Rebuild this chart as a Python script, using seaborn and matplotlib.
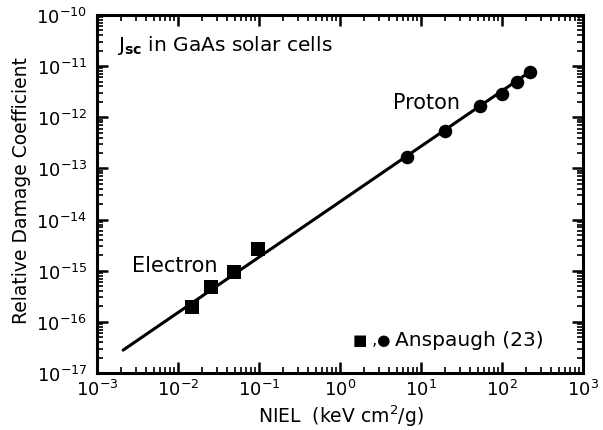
import numpy as np
import pandas as pd
import seaborn as sns
import matplotlib.pyplot as plt
from matplotlib.ticker import NullFormatter

# electron data (squares)
electron_niel = [0.0149, 0.0255, 0.049, 0.097]
electron_coef = [1.95e-16, 4.8e-16, 9.5e-16, 2.7e-15]

# proton data (circles)
proton_niel = [6.7, 19.8, 53.5, 100, 153, 222]
proton_coef = [1.65e-13, 5.4e-13, 1.66e-12, 2.9e-12, 4.9e-12, 7.7e-12]

# fitted line end points
fit_niel = [2.1e-3, 225]
fit_coef = [2.8e-17, 7.9e-12]

# axis decades
x_exps = [-3, -2, -1, 0, 1, 2, 3]
y_exps = [-17, -16, -15, -14, -13, -12, -11, -10]

sns.set_theme(style="ticks")
plt.rcParams['font.family'] = ['DejaVu Sans']
plt.rcParams['text.color'] = 'black'
plt.rcParams['axes.labelcolor'] = 'black'
plt.rcParams['xtick.color'] = 'black'
plt.rcParams['ytick.color'] = 'black'

fig = plt.figure(figsize=(6.03, 4.31), dpi=100)
ax = fig.add_axes([97 / 603, 1 - 374 / 431, 486 / 603, 358 / 431])

fit_df = pd.DataFrame({"NIEL": fit_niel, "coef": fit_coef})
sns.lineplot(data=fit_df, x="NIEL", y="coef", color="black", linewidth=2.2, ax=ax)

el_df = pd.DataFrame({"NIEL": electron_niel, "coef": electron_coef})
sns.scatterplot(data=el_df, x="NIEL", y="coef", marker="s", s=95, color="black",
                edgecolor="black", linewidth=0, ax=ax, zorder=3)

pr_df = pd.DataFrame({"NIEL": proton_niel, "coef": proton_coef})
sns.scatterplot(data=pr_df, x="NIEL", y="coef", marker="o", s=95, color="black",
                edgecolor="black", linewidth=0, ax=ax, zorder=3)

ax.set_xscale("log")
ax.set_yscale("log")

xmaj = [10.0 ** e for e in x_exps]
ymaj = [10.0 ** e for e in y_exps]
ax.set_xticks(xmaj, [f"10$^{{{e}}}$" for e in x_exps])
ax.set_yticks(ymaj, [f"10$^{{{e}}}$" for e in y_exps])
ax.set_xticks([m * 10.0 ** e for e in x_exps[:-1] for m in range(2, 10)], minor=True)
ax.set_yticks([m * 10.0 ** e for e in y_exps[:-1] for m in range(2, 10)], minor=True)
ax.xaxis.set_minor_formatter(NullFormatter())
ax.yaxis.set_minor_formatter(NullFormatter())
ax.set_xlim(1e-3, 1e3)
ax.set_ylim(1e-17, 1e-10)

ax.tick_params(which="both", direction="in", top=True, right=True)
ax.tick_params(which="major", length=8, width=1.8, labelsize=13)
ax.tick_params(axis="x", which="major", pad=4)
ax.tick_params(axis="y", which="major", pad=7)
ax.tick_params(which="minor", length=4.5, width=1.2)
for sp in ax.spines.values():
    sp.set_linewidth(2.2)
    sp.set_color("black")

ax.set_xlabel("NIEL  (keV cm$^2$/g)", fontsize=13.5, va="center")
ax.xaxis.set_label_coords(0.502, -0.117)
ax.set_ylabel("Relative Damage Coefficient", fontsize=13.5, va="center")
ax.yaxis.set_label_coords(-0.155, 0.511)

ax.text(1.77e-3, 2.7e-11, r"J$_{\mathbf{sc}}$ in GaAs solar cells", fontsize=14.5, va="center", ha="left")
ax.text(4.5, 2.0e-12, "Proton", fontsize=15, va="center", ha="left")
ax.text(2.7e-3, 1.3e-15, "Electron", fontsize=15, va="center", ha="left")
ax.text(1.45, 4.6e-17, "\u25a0 ,\u25cf", fontsize=11, va="center", ha="left")
ax.text(4.77, 4.6e-17, "Anspaugh (23)", fontsize=14.5, va="center", ha="left")

fig.savefig("out.png", dpi=100)
